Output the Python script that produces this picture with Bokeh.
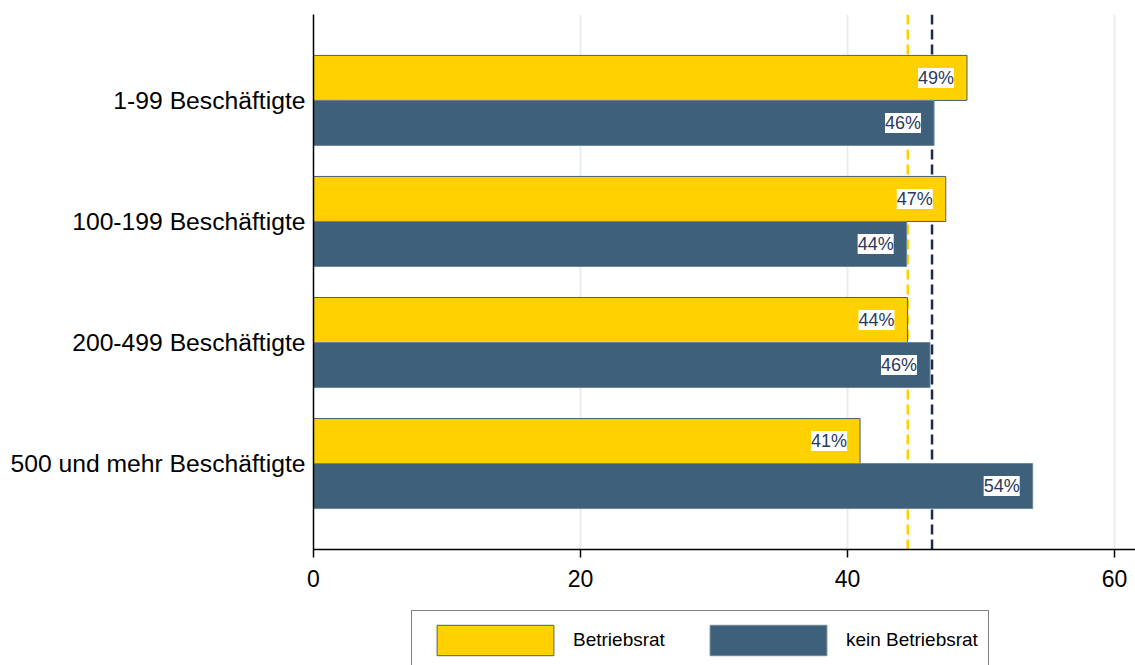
from bokeh.plotting import figure
from bokeh.layouts import column
from bokeh.models import (FactorRange, Range1d, ColumnDataSource, LabelSet, Span,
                          Legend, LegendItem, FixedTicker)
from bokeh.transform import dodge
from bokeh.core.properties import value
from bokeh.embed import file_html
from bokeh.resources import INLINE

# ---- data ----
categories = ["1-99 Beschäftigte", "100-199 Beschäftigte",
              "200-499 Beschäftigte", "500 und mehr Beschäftigte"]
series_names = ["Betriebsrat", "kein Betriebsrat"]
betriebsrat = [48.95, 47.36, 44.49, 40.94]
kein_betriebsrat = [46.48, 44.43, 46.18, 53.87]
labels_betriebsrat = ["49%", "47%", "44%", "41%"]
labels_kein = ["46%", "44%", "46%", "54%"]
mean_betriebsrat = 44.51
mean_kein = 46.33
x_ticks = [0, 20, 40, 60]

# ---- style ----
YELLOW = "#FFD100"
BLUE = "#3E607A"
NAVY = "#1E2B4F"
LABEL_COLOR = "#2A3A5E"
FONT = "Liberation Sans"
Y_LINE = "#4A5F73"
B_LINE = "#6D8799"

src = ColumnDataSource(dict(cat=categories, br=betriebsrat, kb=kein_betriebsrat,
                            lbr=labels_betriebsrat, lkb=labels_kein))

p = figure(width=1135, height=600,
           y_range=FactorRange(factors=categories[::-1], range_padding=0.21,
                               range_padding_units="absolute"),
           x_range=Range1d(0, 61.57),
           output_backend="svg", toolbar_location=None,
           min_border_left=313, min_border_right=0, min_border_top=14,
           min_border_bottom=51)
p.outline_line_color = None
p.background_fill_color = "white"
p.border_fill_color = "white"

# mean reference lines (behind bars)
for loc, col in [(mean_betriebsrat, YELLOW), (mean_kein, NAVY)]:
    p.add_layout(Span(location=loc, dimension="height", line_color=col,
                      line_width=2.5, line_dash="10 5", level="underlay"))

bh = 0.372
off = bh / 2
p.hbar(y=dodge("cat", off, range=p.y_range), left=0, right="br", height=bh,
       source=src, fill_color=YELLOW, line_color=Y_LINE, line_width=1)
p.hbar(y=dodge("cat", -off, range=p.y_range), left=0, right="kb", height=bh,
       source=src, fill_color=BLUE, line_color=B_LINE, line_width=1)

for xcol, tcol, o in [("br", "lbr", off), ("kb", "lkb", -off)]:
    p.add_layout(LabelSet(x=xcol, y=dodge("cat", o, range=p.y_range), text=tcol,
                          source=src, text_align="right", text_baseline="middle",
                          x_offset=-13, background_fill_color="white",
                          text_color=LABEL_COLOR, text_font_size="18px",
                          text_font=value(FONT)))

# axes
p.xaxis.ticker = FixedTicker(ticks=x_ticks)
p.xaxis.major_tick_out = 8
p.xaxis.major_tick_in = 0
p.xaxis.minor_tick_line_color = None
p.xaxis.major_tick_line_width = 1.5
p.xaxis.axis_line_width = 1.5
p.xaxis.axis_line_color = "black"
p.xaxis.major_tick_line_color = "black"
p.xaxis.major_label_text_font = FONT
p.xaxis.major_label_text_font_size = "23px"
p.xaxis.major_label_text_color = "black"
p.xaxis.major_label_standoff = 12

p.yaxis.major_tick_line_color = None
p.yaxis.minor_tick_line_color = None
p.yaxis.axis_line_width = 1.5
p.yaxis.axis_line_color = "black"
p.yaxis.major_label_text_font = FONT
p.yaxis.major_label_text_font_size = "24.7px"
p.yaxis.major_label_text_color = "black"
p.yaxis.major_label_standoff = 2

p.xgrid.ticker = FixedTicker(ticks=x_ticks)
p.xgrid.grid_line_color = "#E6EEF1"
p.xgrid.grid_line_width = 2
p.ygrid.grid_line_color = None

# ---- legend strip below the chart ----
pl = figure(width=1135, height=65, x_range=Range1d(0, 1), y_range=Range1d(0, 1),
            output_backend="svg", toolbar_location=None,
            x_axis_location=None, y_axis_location=None, min_border=0)
pl.outline_line_color = None
pl.xgrid.grid_line_color = None
pl.ygrid.grid_line_color = None
# legend-only renderers (a tiny row hidden beneath the opaque legend box)
legend_src = ColumnDataSource(dict(y=[0.5], left=[0.3], right=[0.32]))
l1 = pl.hbar(y="y", left="left", right="right", height=0.05, source=legend_src,
             fill_color=YELLOW, line_color=Y_LINE, line_width=1)
l2 = pl.hbar(y="y", left="left", right="right", height=0.05, source=legend_src,
             fill_color=BLUE, line_color=B_LINE, line_width=1)

legend = Legend(items=[LegendItem(label=series_names[0], renderers=[l1]),
                       LegendItem(label=series_names[1], renderers=[l2])],
                location=(98, -5), orientation="horizontal",
                glyph_width=146, glyph_height=38, label_standoff=5,
                padding=10, spacing=30, margin=0,
                border_line_color="black", border_line_width=1.5,
                background_fill_color="white", background_fill_alpha=1,
                label_text_font=FONT, label_text_font_size="19px",
                label_text_color="black")
pl.add_layout(legend)

layout = column(p, pl, spacing=0)
open("out.html", "w").write(file_html(layout, INLINE))
